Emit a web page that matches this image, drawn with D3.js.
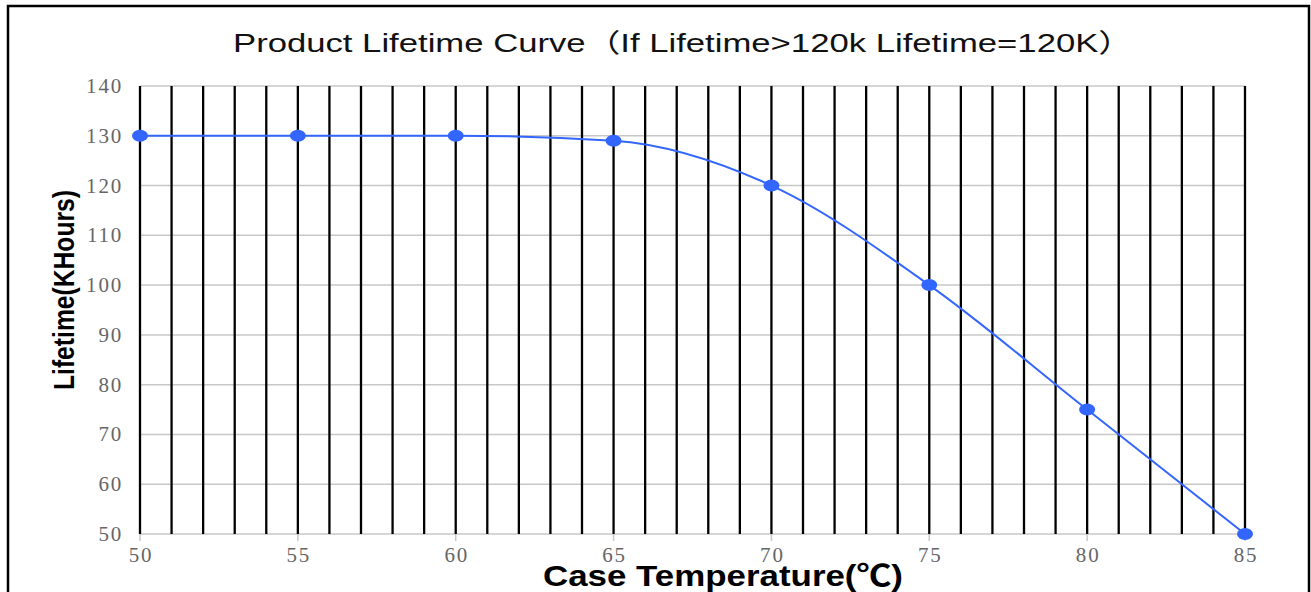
<!DOCTYPE html>
<html><head><meta charset="utf-8">
<script src="https://cdn.jsdelivr.net/npm/d3@7/dist/d3.min.js"></script>
<style>body{margin:0;background:#fff;}svg{display:block;}</style>
</head><body>
<svg id="c" width="1311" height="592"></svg>
<script>
const temps = [50, 55, 60, 65, 70, 75, 80, 85];
const lifetimes = [130, 130, 130, 129, 120, 100, 75, 50];
const xTicks = [50, 55, 60, 65, 70, 75, 80, 85];
const yTicks = [50, 60, 70, 80, 90, 100, 110, 120, 130, 140];
const minorLines = d3.range(50, 86, 1);
const titleText = "Product Lifetime Curve（If Lifetime>120k Lifetime=120K）";
const xTitle = "Case Temperature(℃)";
const yTitle = "Lifetime(KHours)";

const svg = d3.select("#c");
svg.append("rect").attr("x", 8).attr("y", 6).attr("width", 1301).attr("height", 600)
  .attr("fill", "#fff").attr("stroke", "#000").attr("stroke-width", 2.5);

const x = d3.scaleLinear().domain([50, 85]).range([140, 1245]);
const y = d3.scaleLinear().domain([50, 140]).range([534, 86]);

// horizontal grid
svg.append("g").selectAll("line").data(yTicks).join("line")
  .attr("x1", x(50)).attr("x2", x(85))
  .attr("y1", d => y(d)).attr("y2", d => y(d))
  .attr("stroke", "#c8c8c8").attr("stroke-width", 1.5);

// x ticks (gray)
svg.append("g").selectAll("line").data(xTicks).join("line")
  .attr("x1", d => x(d)).attr("x2", d => x(d))
  .attr("y1", y(50)).attr("y2", y(50) + 7)
  .attr("stroke", "#c8c8c8").attr("stroke-width", 1.5);

// vertical black lines
svg.append("g").selectAll("line").data(minorLines).join("line")
  .attr("x1", d => x(d)).attr("x2", d => x(d))
  .attr("y1", y(140)).attr("y2", y(50))
  .attr("stroke", "#000").attr("stroke-width", 2.3);

const tickFont = "'Liberation Serif', serif";
// y tick labels
svg.append("g").selectAll("text").data(yTicks).join("text")
  .attr("x", 123).attr("y", d => y(d) + 7)
  .attr("text-anchor", "end")
  .attr("font-family", tickFont).attr("font-size", 21).attr("letter-spacing", 1.8)
  .attr("fill", "#666").text(d => d);

// x tick labels
svg.append("g").selectAll("text").data(xTicks).join("text")
  .attr("x", d => x(d) + 1).attr("y", 562)
  .attr("text-anchor", "middle")
  .attr("font-family", tickFont).attr("font-size", 21).attr("letter-spacing", 1.8)
  .attr("fill", "#666").text(d => d);

// line
const line = d3.line().x((d, i) => x(temps[i])).y(d => y(d)).curve(d3.curveMonotoneX);
svg.append("path").datum(lifetimes).attr("d", line)
  .attr("fill", "none").attr("stroke", "#3366ff").attr("stroke-width", 2);

svg.append("g").selectAll("ellipse").data(lifetimes).join("ellipse")
  .attr("cx", (d, i) => x(temps[i])).attr("cy", d => y(d))
  .attr("rx", 8).attr("ry", 6).attr("fill", "#3366ff");

// title
svg.append("text").attr("x", 233).attr("y", 52)
  .attr("font-family", "Liberation Sans, Noto Sans CJK SC").attr("font-size", 26)
  .attr("textLength", 900).attr("lengthAdjust", "spacingAndGlyphs")
  .attr("fill", "#111").text(titleText);

// x title
svg.append("text").attr("x", 543).attr("y", 586)
  .attr("font-family", "Liberation Sans, Noto Sans CJK SC").attr("font-weight", "bold").attr("font-size", 30)
  .attr("textLength", 360).attr("lengthAdjust", "spacingAndGlyphs")
  .attr("fill", "#000").text(xTitle);

// y title
svg.append("text").attr("transform", "translate(74,390) rotate(-90)")
  .attr("x", 0).attr("y", 0)
  .attr("font-family", "Liberation Sans Narrow, Liberation Sans").attr("font-weight", "bold").attr("font-size", 30)
  .attr("textLength", 200).attr("lengthAdjust", "spacingAndGlyphs")
  .attr("fill", "#000").text(yTitle);
</script>
</body></html>
